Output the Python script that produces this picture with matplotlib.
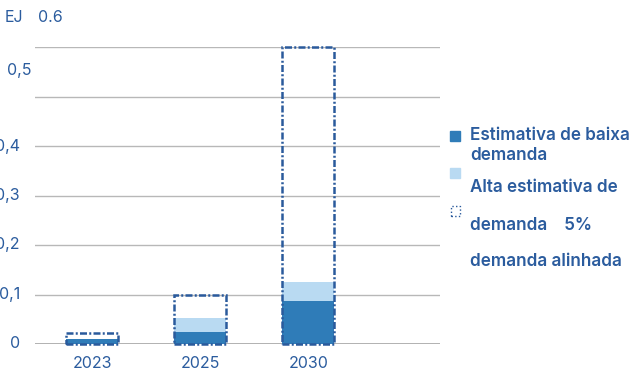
import matplotlib
matplotlib.use("Agg")
import matplotlib.pyplot as plt
from matplotlib.patches import Rectangle

years = ["2023", "2025", "2030"]
baixa = [0.010, 0.025, 0.087]
alta = [0.010, 0.052, 0.125]
alinhada = [0.022, 0.098, 0.600]
yticks = [0, 0.1, 0.2, 0.3, 0.4]
ytick_labels = ["0", "0,1", "0,2", "0,3", "0,4"]
legend_lines = ["Estimativa de baixa", "demanda", "Alta estimativa de",
                "demanda    5%", "demanda alinhada"]

W, H = 633, 371
TXT = "#2b5c9e"
DARK = "#2f7cb8"
LIGHT = "#b9daf2"
EDGE = "#2a5a9c"
FS = 11.5
plt.rcParams['font.family'] = ['Inter', 'DejaVu Sans']

fig = plt.figure(figsize=(W / 100, H / 100), dpi=100)

def fx(px):
    return px / W

def fy(py):
    return 1 - py / H

ax = fig.add_axes([fx(35), fy(344), fx(440) - fx(35), fy(47) - fy(344)])
ax.set_xlim(-0.53, 3.22)
ax.set_ylim(0, 0.6)
for s in ax.spines.values():
    s.set_visible(False)
ax.set_xticks([])
ax.set_yticks([])
for v in [0.1, 0.2, 0.3, 0.4, 0.5, 0.6]:
    ax.axhline(v, color="#b8b8b8", lw=1.0, zorder=0)
ax.axhline(0, color="#aaaaaa", lw=2.0, zorder=0)

x = list(range(len(years)))
wbar = 0.48
ax.bar(x, alta, width=wbar, color=LIGHT, zorder=2)
ax.bar(x, baixa, width=wbar, color=DARK, zorder=3)
ax.bar(x, alinhada, width=wbar, fill=False, edgecolor=EDGE,
       linestyle=(0, (2.8, 0.9, 0.8, 0.9)), linewidth=1.8, zorder=4, clip_on=False)

for xi, lab in zip(x, years):
    ax.text(xi, -0.04, lab, ha="center", va="center", color=TXT, fontsize=FS,
            transform=ax.transData)

for v, lab in zip(yticks, ytick_labels):
    ypx = 344 - v * 495
    fig.text(fx(20), fy(ypx), lab, ha="right", va="center", color=TXT, fontsize=FS)
fig.text(fx(32), fy(71), "0,5", ha="right", va="center", color=TXT, fontsize=FS)
fig.text(fx(5), fy(18), "EJ", ha="left", va="center", color=TXT, fontsize=FS)
fig.text(fx(38), fy(18), "0.6", ha="left", va="center", color=TXT, fontsize=FS)

# legend
fig.patches.append(Rectangle((fx(450), fy(141)), fx(10), fy(131) - fy(141),
                             transform=fig.transFigure, color=DARK))
fig.patches.append(Rectangle((fx(450), fy(178)), fx(10), fy(168) - fy(178),
                             transform=fig.transFigure, color=LIGHT))
fig.patches.append(Rectangle((fx(451), fy(216)), fx(9), fy(206) - fy(216),
                             transform=fig.transFigure, fill=False, edgecolor=EDGE,
                             linestyle=":", linewidth=1.0))
for ypx, t in zip([135, 155, 188, 226, 262], legend_lines):
    fig.text(fx(470), fy(ypx), t, ha="left", va="center", color=TXT,
             fontsize=12.3, fontweight="semibold")

fig.savefig("out.png", dpi=100)
